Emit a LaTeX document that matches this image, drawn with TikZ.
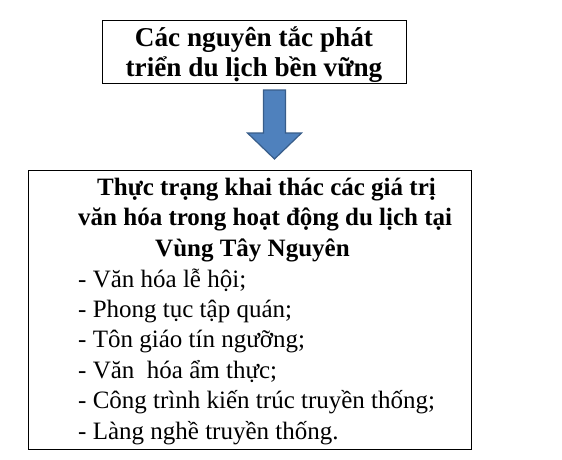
\documentclass[tikz,border=0pt]{standalone}
\usepackage{fontspec}
\setmainfont{Liberation Serif}
\usetikzlibrary{positioning}
\definecolor{xanh}{HTML}{4F81BD}
\definecolor{vienxanh}{HTML}{385D8A}

\begin{document}
\begin{tikzpicture}[x=1pt,y=1pt,
  khung/.style={draw, line width=0.8pt, inner sep=0pt},
  dong/.style={anchor=base west, inner sep=0pt, font=\fontsize{25}{30}\selectfont},
  tieude/.style={dong, font=\fontsize{25}{30}\selectfont\bfseries}]
\useasboundingbox (0,0) rectangle (562,459);

% Top box
\node[khung, minimum width=304, minimum height=63, align=center, text depth=0pt,
  font=\fontsize{27.2}{30}\selectfont\bfseries] (nguyentac) at (254,407.5)
  {Các nguyên tắc phát\\triển du lịch bền vững};

% Block arrow
\draw[fill=xanh, draw=vienxanh, line width=1.2pt, line join=miter]
  (263.5,369) -- (285.5,369) -- (285.5,326) -- (301.5,326) -- (274.5,300)
  -- (247.5,326) -- (263.5,326) -- cycle;

% Bottom box
\node[khung, minimum width=443, minimum height=279] (thuctrang) at (249.5,149.5) {};

% Title of bottom box
\node[tieude] (tieude1) at (97,264) {Thực trạng khai thác các giá trị};
\node[tieude] (tieude2) at (78,233.5) {văn hóa trong hoạt động du lịch tại};
\node[tieude] (tieude3) at (155,203) {Vùng Tây Nguyên};

% Items
\node[dong] (muc1) at (78,172) {- Văn hóa lễ hội;};
\node[dong] (muc2) at (78,142) {- Phong tục tập quán;};
\node[dong] (muc3) at (78,112) {- Tôn giáo tín ngưỡng;};
\node[dong] (muc4) at (78,81) {- Văn~~hóa ẩm thực;};
\node[dong] (muc5) at (78,51) {- Công trình kiến trúc truyền thống;};
\node[dong] (muc6) at (78,20) {- Làng nghề truyền thống.};
\end{tikzpicture}
\end{document}
